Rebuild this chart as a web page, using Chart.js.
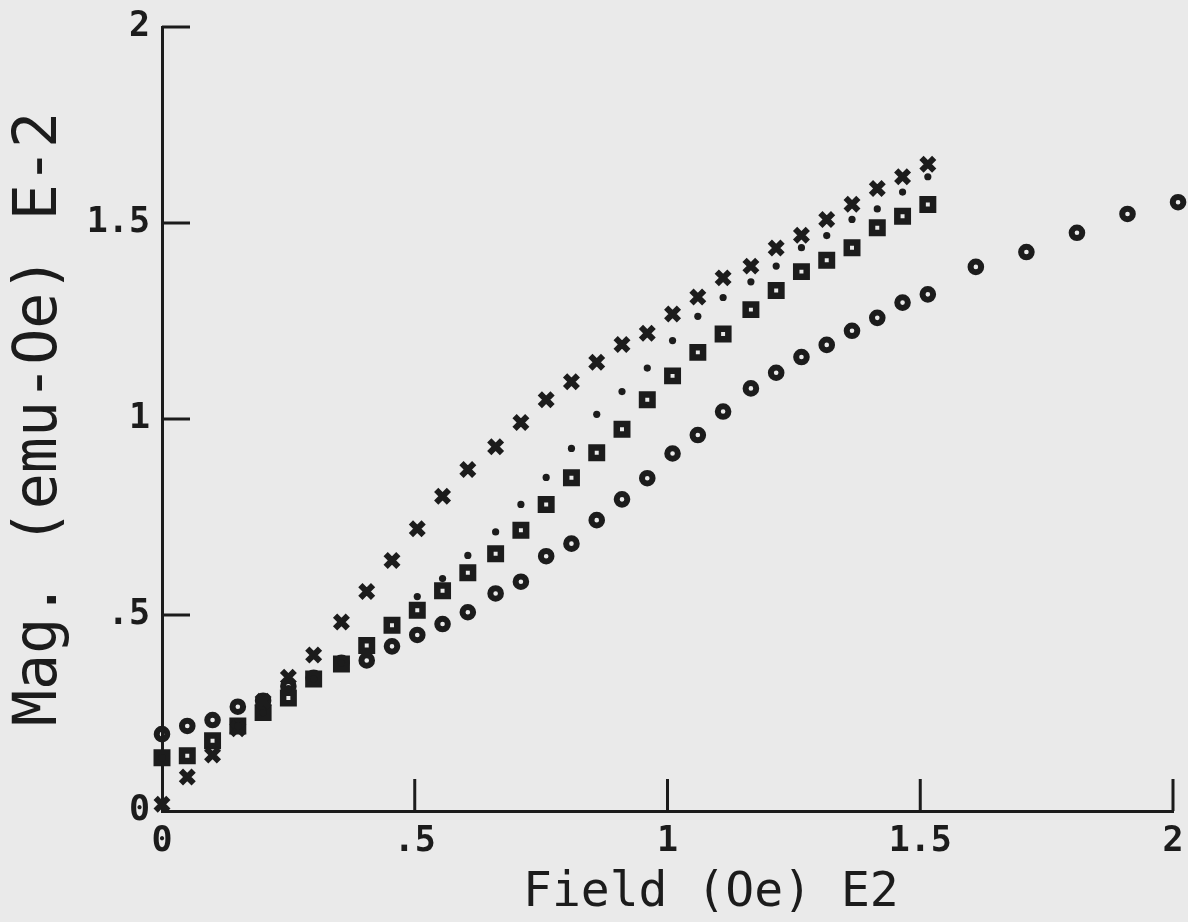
<!DOCTYPE html>
<html>
<head>
<meta charset="utf-8">
<title>Mag. vs Field</title>
<script src="https://cdn.jsdelivr.net/npm/chart.js@4.4.1/dist/chart.umd.min.js"></script>
<style>
    html, body { margin: 0; padding: 0; background: #eaeaea; }
    canvas { display: block; }
</style>
</head>
<body>
<canvas id="magChart" width="1188" height="922"></canvas>
<script>
// field values (Oe, x100) for the four runs
const fieldE2 = [0, 0.05, 0.1, 0.15, 0.2, 0.25, 0.3, 0.355, 0.405, 0.455, 0.505, 0.555, 0.605, 0.66, 0.71, 0.76,
    0.81, 0.86, 0.91, 0.96, 1.01, 1.06, 1.11, 1.165, 1.215, 1.265, 1.315, 1.365, 1.415, 1.465, 1.515];
const fieldHighE2 = [1.61, 1.71, 1.81, 1.91, 2.01];

// magnetisation (emu-Oe, x0.01)
const magCircle = [0.196, 0.217, 0.232, 0.266, 0.281, 0.318, 0.34, 0.378, 0.384, 0.42, 0.449, 0.477, 0.507, 0.555,
    0.585, 0.65, 0.682, 0.742, 0.795, 0.849, 0.912, 0.959, 1.019, 1.078, 1.118, 1.158, 1.189, 1.225, 1.258, 1.297, 1.318];
const magCircleHigh = [1.388, 1.426, 1.475, 1.523, 1.553];
const magSquare = [0.136, 0.141, 0.179, 0.217, 0.251, 0.288, 0.337, 0.375, 0.422, 0.474, 0.512, 0.562, 0.608, 0.656,
    0.716, 0.782, 0.85, 0.914, 0.974, 1.049, 1.11, 1.17, 1.217, 1.279, 1.328, 1.376, 1.405, 1.437, 1.488, 1.517, 1.547];
const magCross = [0.017, 0.087, 0.143, 0.21, 0.28, 0.341, 0.398, 0.482, 0.56, 0.639, 0.72, 0.803, 0.871, 0.929,
    0.991, 1.049, 1.095, 1.145, 1.19, 1.219, 1.268, 1.311, 1.36, 1.39, 1.436, 1.469, 1.509, 1.548, 1.588, 1.618, 1.65];
const magDot = [0.136, null, null, 0.217, 0.251, 0.312, 0.337, 0.378, null, null, 0.547, 0.593, 0.652, 0.712,
    0.782, 0.851, 0.925, 1.012, 1.07, 1.13, 1.2, 1.262, 1.31, 1.35, 1.39, 1.437, 1.468, 1.509, 1.536, 1.579, 1.618];

const xTicks = [0, 0.5, 1, 1.5, 2];
const yTicks = [0, 0.5, 1, 1.5, 2];

const ink = '#1c1c1c';
const plotFont = 'DejaVu Sans Mono';

function toPoints(xs, ys) {
    return xs.map((x, i) => ({ x: x, y: ys[i] }));
}

function plotLabel(v) {
    return String(v).replace(/^0\./, '.');
}

// ticks of the old plotter point inwards
const insideTicks = {
    id: 'insideTicks',
    afterDraw(chart) {
        const { ctx, chartArea, scales } = chart;
        ctx.save();
        ctx.strokeStyle = ink;
        ctx.lineWidth = 3;
        ctx.beginPath();
        yTicks.forEach(v => {
            if (v === 0) return;
            const py = scales.y.getPixelForValue(v);
            ctx.moveTo(chartArea.left, py);
            ctx.lineTo(chartArea.left + 28, py);
        });
        xTicks.forEach(v => {
            if (v === 0) return;
            const px = scales.x.getPixelForValue(v);
            ctx.moveTo(px, chartArea.bottom);
            ctx.lineTo(px, chartArea.bottom - 32);
        });
        ctx.stroke();
        ctx.restore();
    }
};

const ctx = document.getElementById('magChart').getContext('2d');

new Chart(ctx, {
    type: 'scatter',
    data: {
        datasets: [
            {
                label: 'dot',
                data: toPoints(fieldE2, magDot),
                pointStyle: 'circle',
                pointRadius: 3.6,
                borderWidth: 0,
                backgroundColor: ink,
                clip: false
            },
            {
                label: 'cross',
                data: toPoints(fieldE2, magCross),
                pointStyle: 'crossRot',
                pointRadius: 9,
                borderWidth: 6,
                borderColor: ink,
                clip: false
            },
            {
                label: 'square',
                data: toPoints(fieldE2, magSquare),
                pointStyle: 'rect',
                pointRadius: 7.4,
                borderWidth: 6.5,
                borderColor: ink,
                backgroundColor: 'rgba(0,0,0,0)',
                clip: false
            },
            {
                label: 'circle',
                data: toPoints(fieldE2.concat(fieldHighE2), magCircle.concat(magCircleHigh)),
                pointStyle: 'circle',
                pointRadius: 5.3,
                borderWidth: 6,
                borderColor: ink,
                backgroundColor: 'rgba(0,0,0,0)',
                clip: false
            }
        ]
    },
    options: {
        responsive: false,
        animation: false,
        layout: { padding: { top: 27, right: 12, left: 0, bottom: 0 } },
        plugins: {
            legend: { display: false },
            tooltip: { enabled: false }
        },
        scales: {
            x: {
                type: 'linear',
                min: 0,
                max: 2,
                afterBuildTicks: s => { s.ticks = xTicks.map(v => ({ value: v })); },
                afterFit: s => {
                    s.height = 111;
                    s.paddingLeft = 0;
                    s.paddingRight = 0;
                },
                grid: { display: false, drawTicks: false },
                border: { display: true, color: ink, width: 3 },
                ticks: {
                    color: ink,
                    padding: 10,
                    maxRotation: 0,
                    autoSkip: false,
                    font: { family: plotFont, size: 35, weight: 'bold' },
                    callback: plotLabel
                },
                title: {
                    display: true,
                    text: '   Field (Oe) E2',
                    color: ink,
                    font: { family: plotFont, size: 48 },
                    padding: { top: 0, bottom: 0 }
                }
            },
            y: {
                type: 'linear',
                min: 0,
                max: 2,
                afterBuildTicks: s => { s.ticks = yTicks.map(v => ({ value: v })); },
                afterFit: s => {
                    s.width = 162;
                    s.paddingTop = 0;
                    s.paddingBottom = 0;
                },
                grid: { display: false, drawTicks: false },
                border: { display: true, color: ink, width: 3 },
                ticks: {
                    color: ink,
                    padding: 12,
                    autoSkip: false,
                    font: { family: plotFont, size: 35, weight: 'bold' },
                    callback: plotLabel
                },
                title: {
                    display: true,
                    text: 'Mag. (emu-Oe) E-2',
                    color: ink,
                    font: { family: plotFont, size: 60 },
                    padding: { top: 4, bottom: 0 }
                }
            }
        }
    },
    plugins: [insideTicks]
});
</script>
</body>
</html>
